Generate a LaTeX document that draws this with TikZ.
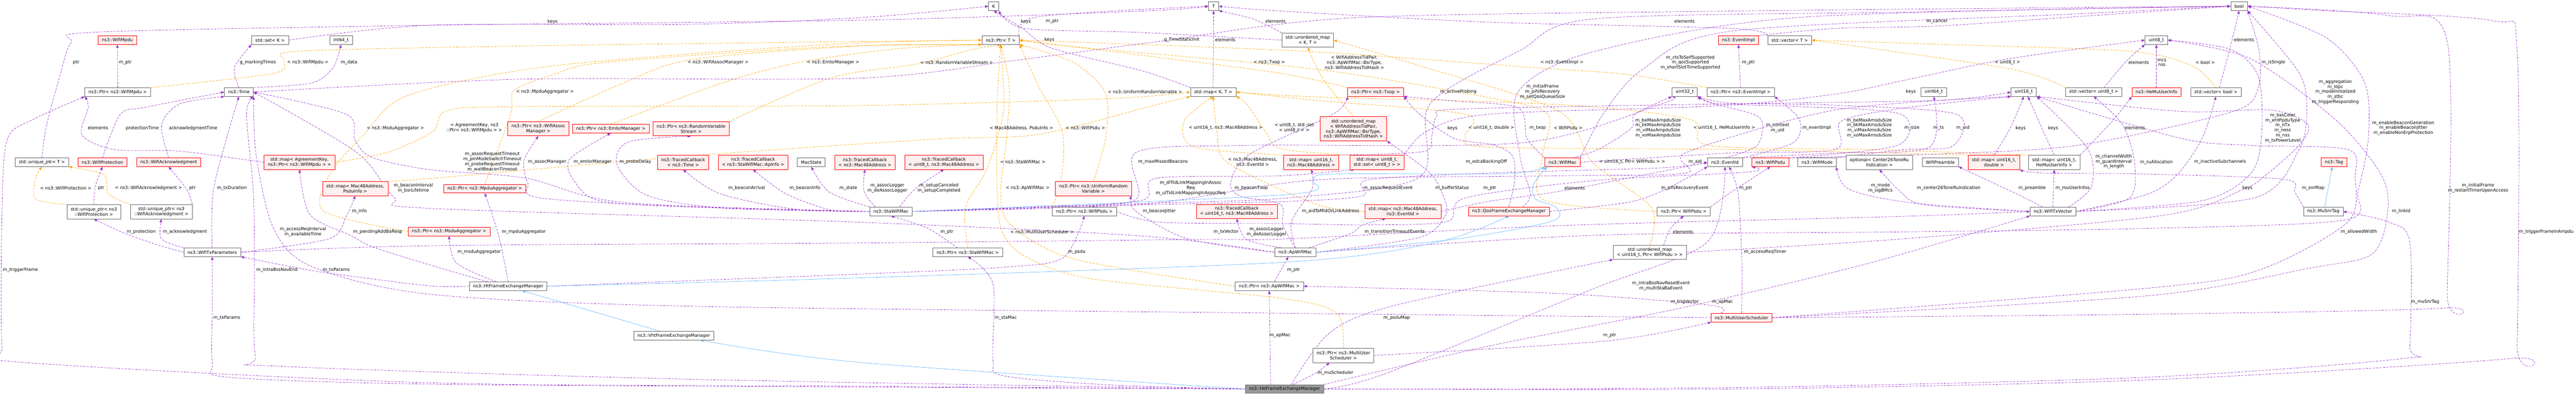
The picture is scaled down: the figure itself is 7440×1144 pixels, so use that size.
\documentclass[tikz,border=0pt]{standalone}
\usepackage{fontspec}
\setmainfont{DejaVu Sans}
\usetikzlibrary{arrows.meta,calc}
\definecolor{cpur}{HTML}{9A32CD}
\definecolor{corg}{HTML}{FFA500}
\definecolor{cblu}{HTML}{63B8FF}
\definecolor{cgray}{HTML}{666666}
\definecolor{cred}{HTML}{FF0000}
\definecolor{cpink}{HTML}{FFF0F0}
\definecolor{cfill}{HTML}{999999}
\pgfdeclarelayer{bg}
\pgfsetlayers{bg,main}
\begin{document}
\begin{tikzpicture}[x=0.75pt,y=-0.75pt,
 every node/.style={font=\fontsize{9.5}{11}\selectfont},
 nd/.style={draw=cgray,fill=white,line width=0.75pt,inner xsep=8pt,inner ysep=1pt,minimum height=18.75pt,align=center},
 ng/.style={nd},
 nr/.style={nd,draw=cred,fill=cpink},
 n2/.style={nd,minimum height=30.75pt},
 nr2/.style={nr,minimum height=30.75pt},
 nr4/.style={nr,minimum height=52.5pt},
 nh/.style={nd,fill=cfill},
 lb/.style={inner sep=1.5pt,align=center,text=black},
 ed/.style={line width=0.75pt,dash pattern=on 5pt off 2.5pt},
 pu/.style={ed,draw=cpur,-{Triangle[length=7pt,width=5.5pt]}},
 og/.style={ed,draw=corg,-{Triangle[length=7pt,width=5.5pt]}},
 bu/.style={line width=0.75pt,draw=cblu,-{Triangle[length=7pt,width=5.5pt]}},
]
\useasboundingbox (0,0) rectangle (7440,1144);
% ---------------- nodes
\node[nr] (wmpdu) at (339,116) {ns3::WifiMpdu};
\node[ng] (setk) at (780,116) {std::set< K >};
\node[ng] (i64) at (985,116) {int64\_t};
\node[ng] (K) at (2870,18) {K};
\node[ng] (T) at (3505,18) {T};
\node[ng] (ptrT) at (2890,116) {ns3::Ptr< T >};
\node[n2] (umapKT) at (3777,116) {std::unordered\_map\\< K, T >};
\node[nr] (evimpl) at (5021,116) {ns3::EventImpl};
\node[ng] (vecT) at (5169,116) {std::vector< T >};
\node[ng] (u8) at (6228,116) {uint8\_t};
\node[ng] (boolN) at (6467,18) {bool};
\node[ng] (ptrMpdu) at (340,266) {ns3::Ptr< ns3::WifiMpdu >};
\node[ng] (time) at (690,266) {ns3::Time};
\node[ng] (mapKT) at (3504,266) {std::map< K, T >};
\node[nr] (ptrTxop) at (3973,266) {ns3::Ptr< ns3::Txop >};
\node[ng] (u32) at (4866,266) {uint32\_t};
\node[ng] (ptrEvImpl) at (5027,266) {ns3::Ptr< ns3::EventImpl >};
\node[ng] (u64) at (5585,266) {uint64\_t};
\node[ng] (u16) at (5845,266) {uint16\_t};
\node[ng] (vecU8) at (6047,266) {std::vector< uint8\_t >};
\node[nr] (hemui) at (6228,266) {ns3::HeMuUserInfo};
\node[ng] (vecBool) at (6400,266) {std::vector< bool >};
\node[nr2] (ptrAssoc) at (1555,372) {ns3::Ptr< ns3::WifiAssoc\\Manager >};
\node[nr] (ptrEmlsr) at (1764,372) {ns3::Ptr< ns3::EmlsrManager >};
\node[nr2] (ptrRvs) at (1996,372) {ns3::Ptr< ns3::RandomVariable\\Stream >};
\node[nr4] (umapBsr) at (3909,372) {std::unordered\_map\\< WifiAddressTidPair,\\ns3::ApWifiMac::BsrType,\\ns3::WifiAddressTidHash >};
\node[ng] (uptrT) at (121,469) {std::unique\_ptr< T >};
\node[nr] (wprot) at (296,469) {ns3::WifiProtection};
\node[nr] (wack) at (487,469) {ns3::WifiAcknowledgment};
\node[nr2] (mapAgr) at (865,469) {std::map< AgreementKey,\\ns3::Ptr< ns3::WifiMpdu > >};
\node[nr2] (tcTime) at (1973,469) {ns3::TracedCallback\\< ns3::Time >};
\node[nr2] (tcApInfo) at (2175,469) {ns3::TracedCallback\\< ns3::StaWifiMac::ApInfo >};
\node[ng] (macState) at (2343,469) {MacState};
\node[nr2] (tcMac) at (2498,469) {ns3::TracedCallback\\< ns3::Mac48Address >};
\node[nr2] (tcU8Mac) at (2726,469) {ns3::TracedCallback\\< uint8\_t, ns3::Mac48Address >};
\node[nr2] (mapU16Mac) at (3787,469) {std::map< uint16\_t,\\ns3::Mac48Address >};
\node[nr2] (mapU8Set) at (3977,469) {std::map< uint8\_t,\\std::set< uint8\_t > >};
\node[nr] (wifiMac) at (4513,469) {ns3::WifiMac};
\node[ng] (eventId) at (4982,469) {ns3::EventId};
\node[nr] (wpsdu) at (5113,469) {ns3::WifiPsdu};
\node[ng] (wmode) at (5248,469) {ns3::WifiMode};
\node[n2] (optRu) at (5428,469) {optional< Center26ToneRu\\Indication >};
\node[ng] (wpre) at (5604,469) {WifiPreamble};
\node[nr2] (mapU16D) at (5759,469) {std::map< uint16\_t,\\double >};
\node[n2] (mapU16Hemu) at (5933,469) {std::map< uint16\_t,\\HeMuUserInfo >};
\node[nr] (tag) at (6741,469) {ns3::Tag};
\node[nr2] (mapPsdu) at (1026,545) {std::map< Mac48Address,\\PsduInfo >};
\node[nr] (ptrMpduAgg) at (1400,545) {ns3::Ptr< ns3::MpduAggregator >};
\node[nr2] (ptrUrv) at (3158,545) {ns3::Ptr< ns3::UniformRandom\\Variable >};
\node[n2] (uptrProt) at (271,612) {std::unique\_ptr< ns3\\::WifiProtection >};
\node[n2] (uptrAck) at (466,612) {std::unique\_ptr< ns3\\::WifiAcknowledgment >};
\node[ng] (staMac) at (2573,611) {ns3::StaWifiMac};
\node[ng] (ptrPsdu) at (3132,611) {ns3::Ptr< ns3::WifiPsdu >};
\node[nr2] (tcU16Mac) at (3572,611) {ns3::TracedCallback\\< uint16\_t, ns3::Mac48Address >};
\node[nr2] (mapMacEv) at (4052,611) {std::map< ns3::Mac48Address,\\ns3::EventId >};
\node[nr] (qosFem) at (4358,611) {ns3::QosFrameExchangeManager};
\node[ng] (ptrPsdu2) at (4863,611) {ns3::Ptr< WifiPsdu >};
\node[ng] (txVec) at (5929,611) {ns3::WifiTxVector};
\node[ng] (muSnr) at (6710,611) {ns3::MuSnrTag};
\node[nr] (ptrMsduAgg) at (1297,669) {ns3::Ptr< ns3::MsduAggregator >};
\node[ng] (txParams) at (613,729) {ns3::WifiTxParameters};
\node[ng] (ptrSta) at (2795,729) {ns3::Ptr< ns3::StaWifiMac >};
\node[ng] (apMac) at (3741,729) {ns3::ApWifiMac};
\node[n2] (umapPsdu) at (4765,729) {std::unordered\_map\\< uint16\_t, Ptr< WifiPsdu > >};
\node[ng] (htFem) at (1468,827) {ns3::HtFrameExchangeManager};
\node[ng] (ptrAp) at (3666,827) {ns3::Ptr< ns3::ApWifiMac >};
\node[nr] (mus) at (5030,918) {ns3::MultiUserScheduler};
\node[ng] (vhtFem) at (1946,970) {ns3::VhtFrameExchangeManager};
\node[n2] (ptrMus) at (3880,1027) {ns3::Ptr< ns3::MultiUser\\Scheduler >};
\node[nh] (heFem) at (3710,1124) {ns3::HeFrameExchangeManager};
% offset coordinates on node borders
\coordinate (hN60) at ($(htFem.north)+(-60,0)$);
\coordinate (hN35) at ($(htFem.north)+(-35,0)$);
\coordinate (m8S) at ($(mapU8Set.south)+(-65,0)$);
\coordinate (stN45) at ($(staMac.north)+(-45,0)$);
\coordinate (stN25) at ($(staMac.north)+(25,0)$);
\coordinate (psN30) at ($(ptrSta.north)+(-30,0)$);
\coordinate (heN40m) at ($(heFem.north)+(-40,0)$);
\coordinate (paN15) at ($(ptrAp.north)+(15,0)$);
\coordinate (apS20) at ($(apMac.south)+(-20,0)$);
\coordinate (apN40m) at ($(apMac.north)+(-40,0)$);
\coordinate (apN40) at ($(apMac.north)+(40,0)$);
\coordinate (meS50) at ($(mapMacEv.south)+(-50,0)$);
\coordinate (qfN40) at ($(qosFem.north)+(40,0)$);
\coordinate (wmN30) at ($(wifiMac.north)+(30,0)$);
\coordinate (upN40) at ($(umapPsdu.north)+(40,0)$);
\coordinate (heN20) at ($(heFem.north)+(20,0)$);
\coordinate (heN25) at ($(heFem.north)+(25,0)$);
\coordinate (pmS40) at ($(ptrMus.south)+(-40,0)$);
\coordinate (muN60) at ($(mus.north)+(-60,0)$);
\coordinate (evS12) at ($(eventId.south)+(12,0)$);
\coordinate (tvN30) at ($(txVec.north)+(-30,0)$);
\coordinate (tvN45) at ($(txVec.north)+(45,0)$);
\coordinate (u16S12) at ($(u16.south)+(12,0)$);
\coordinate (vuN30) at ($(vecU8.north)+(30,0)$);
\coordinate (vbN10) at ($(vecBool.north)+(10,0)$);
\coordinate (vhS77) at ($(vhtFem.south)+(77,0)$);
\coordinate (vhN40) at ($(vhtFem.north)+(-40,0)$);
\coordinate (htS40) at ($(htFem.south)+(40,0)$);
\coordinate (wmS45) at ($(wifiMac.south)+(-45,0)$);
\coordinate (msN4) at ($(muSnr.north)+(4,0)$);
\coordinate (tgS5) at ($(tag.south)+(-5,0)$);
% ---------------- labels
\node[lb] at (889,181) {< ns3::WifiMpdu >};
\node[lb] at (1142,370) {< ns3::MsduAggregator >};
\node[lb] at (1574,265) {< ns3::MpduAggregator >};
\node[lb] at (2074,181) {< ns3::WifiAssocManager >};
\node[lb] at (2406,181) {< ns3::EmlsrManager >};
\node[lb] at (2763,181) {< ns3::RandomVariableStream >};
\node[lb] at (2954,468) {< ns3::StaWifiMac >};
\node[lb] at (2968,544) {< ns3::ApWifiMac >};
\node[lb] at (3010,670) {< ns3::MultiUserScheduler >};
\node[lb] at (3135,370) {< ns3::WifiPsdu >};
\node[lb] at (3307,265) {< ns3::UniformRandomVariable >};
\node[lb] at (3666,181) {< ns3::Txop >};
\node[lb] at (4511,181) {< ns3::EventImpl >};
\node[lb] at (4529,370) {< WifiPsdu >};
\node[lb] at (1370,370) {< AgreementKey, ns3\\::Ptr< ns3::WifiMpdu > >};
\node[lb] at (2950,370) {< Mac48Address, PsduInfo >};
\node[lb] at (3540,370) {< uint16\_t, ns3::Mac48Address >};
\node[lb] at (3738,370) {< uint8\_t, std::set\\< uint8\_t > >};
\node[lb] at (3618,468) {< ns3::Mac48Address,\\ns3::EventId >};
\node[lb] at (4307,370) {< uint16\_t, double >};
\node[lb] at (4980,370) {< uint16\_t, HeMuUserInfo >};
\node[lb] at (3912,181) {< WifiAddressTidPair,\\ns3::ApWifiMac::BsrType,\\ns3::WifiAddressTidHash >};
\node[lb] at (4714,468) {< uint16\_t, Ptr< WifiPsdu > >};
\node[lb] at (5798,181) {< uint8\_t >};
\node[lb] at (6369,181) {< bool >};
\node[lb] at (190,544) {< ns3::WifiProtection >};
\node[lb] at (429,544) {< ns3::WifiAcknowledgment >};
\node[lb] at (362,181) {m\_ptr};
\node[lb] at (220,181) {ptr};
\node[lb] at (745,181) {g\_markingTimes};
\node[lb] at (1008,181) {m\_data};
\node[lb] at (3413,115) {g\_TimeStaticInit};
\node[lb] at (1596,62) {keys};
\node[lb] at (283,370) {elements};
\node[lb] at (411,370) {protectionTime};
\node[lb] at (558,370) {acknowledgmentTime};
\node[lb] at (292,544) {ptr};
\node[lb] at (556,544) {ptr};
\node[lb] at (670,544) {m\_txDuration};
\node[lb] at (408,670) {m\_protection};
\node[lb] at (534,670) {m\_acknowledgment};
\node[lb] at (1038,610) {m\_info};
\node[lb] at (875,670) {m\_accessReqInterval\\m\_availableTime};
\node[lb] at (1091,670) {m\_pendingAddBaResp};
\node[lb] at (1194,544) {m\_beaconInterval\\m\_bsrLifetime};
\node[lb] at (1422,468) {m\_assocRequestTimeout\\m\_pmModeSwitchTimeout\\m\_probeRequestTimeout\\m\_waitBeaconTimeout};
\node[lb] at (59,780) {m\_triggerFrame};
\node[lb] at (800,780) {m\_intraBssNavEnd};
\node[lb] at (971,780) {m\_txParams};
\node[lb] at (655,918) {m\_txParams};
\node[lb] at (1384,728) {m\_msduAggregator};
\node[lb] at (1513,670) {m\_mpduAggregator};
\node[lb] at (1580,468) {m\_assocManager};
\node[lb] at (1712,468) {m\_emlsrManager};
\node[lb] at (1835,468) {m\_probeDelay};
\node[lb] at (2157,544) {m\_beaconArrival};
\node[lb] at (2325,544) {m\_beaconInfo};
\node[lb] at (2450,544) {m\_state};
\node[lb] at (2563,544) {m\_assocLogger\\m\_deAssocLogger};
\node[lb] at (2712,544) {m\_setupCanceled\\m\_setupCompleted};
\node[lb] at (3039,62) {m\_ptr};
\node[lb] at (3031,115) {keys};
\node[lb] at (3539,115) {elements};
\node[lb] at (3684,62) {elements};
\node[lb] at (2963,62) {keys};
\node[lb] at (3359,468) {m\_maxMissedBeacons};
\node[lb] at (3348,610) {m\_beaconJitter};
\node[lb] at (3439,544) {m\_dlTidLinkMappingInAssoc\\Req\\m\_ulTidLinkMappingInAssocReq};
\node[lb] at (3614,544) {m\_beaconTxop};
\node[lb] at (3658,670) {m\_assocLogger\\m\_deAssocLogger};
\node[lb] at (3541,670) {m\_txVector};
\node[lb] at (2735,670) {m\_ptr};
\node[lb] at (2905,918) {m\_staMac};
\node[lb] at (3697,970) {m\_apMac};
\node[lb] at (3736,780) {m\_ptr};
\node[lb] at (3110,728) {m\_psdu};
\node[lb] at (3843,610) {m\_aidToMldOrLinkAddress};
\node[lb] at (4028,670) {m\_transitionTimeoutEvents};
\node[lb] at (4194,544) {m\_bufferStatus};
\node[lb] at (4009,544) {m\_assocRequestEvent};
\node[lb] at (4212,265) {m\_activeProbing};
\node[lb] at (4293,468) {m\_edcaBackingOff};
\node[lb] at (4441,370) {m\_txop};
\node[lb] at (4455,265) {m\_initialFrame\\m\_pifsRecovery\\m\_setQosQueueSize};
\node[lb] at (4882,181) {m\_ctsToSelfSupported\\m\_qosSupported\\m\_shortSlotTimeSupported};
\node[lb] at (4789,370) {m\_beMaxAmpduSize\\m\_bkMaxAmpduSize\\m\_viMaxAmpduSize\\m\_voMaxAmpduSize};
\node[lb] at (5399,370) {m\_beMaxAmsduSize\\m\_bkMaxAmsduSize\\m\_viMaxAmsduSize\\m\_voMaxAmsduSize};
\node[lb] at (4866,544) {m\_pifsRecoveryEvent};
\node[lb] at (4896,468) {m\_aid};
\node[lb] at (4861,670) {elements};
\node[lb] at (4034,918) {m\_psduMap};
\node[lb] at (4797,826) {m\_intraBssNavResetEvent\\m\_multiStaBaEvent};
\node[lb] at (4866,873) {m\_trigVector};
\node[lb] at (4649,970) {m\_ptr};
\node[lb] at (3857,1077) {m\_muScheduler};
\node[lb] at (4975,873) {m\_apMac};
\node[lb] at (5098,728) {m\_accessReqTimer};
\node[lb] at (5247,370) {m\_eventImpl};
\node[lb] at (5599,370) {m\_ts};
\node[lb] at (5134,370) {m\_context\\m\_uid};
\node[lb] at (5050,181) {m\_ptr};
\node[lb] at (5594,62) {m\_cancel};
\node[lb] at (4303,544) {m\_ptr};
\node[lb] at (5042,544) {m\_ptr};
\node[lb] at (5522,370) {m\_size};
\node[lb] at (5669,370) {m\_uid};
\node[lb] at (5431,544) {m\_mode\\m\_sigBMcs};
\node[lb] at (5628,544) {m\_center26ToneRuIndication};
\node[lb] at (5869,544) {m\_preamble};
\node[lb] at (5986,544) {m\_muUserInfos};
\node[lb] at (6105,467) {m\_channelWidth\\m\_guardInterval\\m\_length};
\node[lb] at (6228,469) {m\_ruAllocation};
\node[lb] at (6412,468) {m\_inactiveSubchannels};
\node[lb] at (6593,370) {m\_bssColor\\m\_ehtPpduType\\m\_nTx\\m\_ness\\m\_nss\\m\_txPowerLevel};
\node[lb] at (6745,266) {m\_aggregation\\m\_ldpc\\m\_modeInitialized\\m\_stbc\\m\_triggerResponding};
\node[lb] at (6941,370) {m\_enableBeaconGeneration\\m\_enableBeaconJitter\\m\_enableNonErpProtection};
\node[lb] at (7157,543) {m\_initialFrame\\m\_restartTimerUponAccess};
\node[lb] at (7354,670) {m\_triggerFrameInAmpdu};
\node[lb] at (6935,610) {m\_linkId};
\node[lb] at (6813,670) {m\_allowedWidth};
\node[lb] at (7004,873) {m\_muSnrTag};
\node[lb] at (6681,544) {m\_snrMap};
\node[lb] at (5836,370) {keys};
\node[lb] at (5930,370) {keys};
\node[lb] at (6166,370) {elements};
\node[lb] at (6244,181) {mcs\\nss};
\node[lb] at (6177,181) {elements};
\node[lb] at (6481,115) {elements};
\node[lb] at (6566,181) {m\_isSingle};
\node[lb] at (4865,62) {elements};
\node[lb] at (4548,544) {elements};
\node[lb] at (4195,370) {keys};
\node[lb] at (5519,265) {keys};
\node[lb] at (6491,544) {keys};
% ---------------- connectors
\begin{pgfonlayer}{bg}
\fill[white] (0,0) rectangle (7440,1144);
% orange: template instances
\draw[og] plot[smooth] coordinates {(ptrMpdu.north east) (790,212) (822,175) (860,148) (1500,133) (2400,121) (ptrT.west)};
\draw[og] plot[smooth] coordinates {(ptrMsduAgg.west) (935,610) (955,500) (1050,390) (1180,275) (1600,190) (2400,128) (ptrT.west)};
\draw[og] plot[smooth] coordinates {(ptrMpduAgg.north) (1475,330) (1485,262) (1600,215) (1750,180) (2400,135) (ptrT.south west)};
\draw[og] plot[smooth] coordinates {(ptrAssoc.north) (1800,240) (2000,172) (2500,132) (ptrT.south west)};
\draw[og] plot[smooth] coordinates {(ptrEmlsr.north) (2100,235) (2320,178) (2600,140) (ptrT.south west)};
\draw[og] plot[smooth] coordinates {(ptrRvs.north east) (2400,225) (2648,185) (2800,145) (ptrT.south)};
\draw[og] plot[smooth] coordinates {(ptrSta.north) (2788,600) (2845,500) (2880,400) (2900,300) (ptrT.south)};
\draw[og] plot[smooth] coordinates {(ptrAp.west) (3100,748) (2920,650) (2890,560) (2905,420) (2915,250) (ptrT.south)};
\draw[og] plot[smooth] coordinates {(ptrMus.north) (3860,905) (3700,862) (3150,805) (2960,740) (2895,670) (2880,560) (2880,300) (ptrT.south)};
\draw[og] plot[smooth] coordinates {(ptrPsdu.north west) (3065,520) (3068,380) (3000,250) (ptrT.south east)};
\draw[og] plot[smooth] coordinates {(ptrUrv.north) (3193,400) (3193,270) (3100,180) (ptrT.south east)};
\draw[og] plot[smooth] coordinates {(ptrTxop.north west) (3700,212) (3300,160) (ptrT.east)};
\draw[og] plot[smooth] coordinates {(ptrEvImpl.north west) (4700,215) (4440,196) (3800,150) (3200,125) (ptrT.east)};
\draw[og] plot[smooth] coordinates {(ptrPsdu2.west) (4460,578) (4455,450) (4470,330) (4300,282) (3800,200) (3100,135) (ptrT.east)};
\draw[og] plot[smooth] coordinates {(mapAgr.east) (1120,440) (1250,380) (1290,320) (1500,308) (2480,305) (3200,285) (mapKT.west)};
\draw[og] plot[smooth] coordinates {(mapPsdu.north east) (1250,515) (2000,450) (2700,402) (3000,388) (3350,300) (mapKT.south west)};
\draw[og] plot[smooth] coordinates {(mapU16Mac.north west) (3450,425) (3420,350) (mapKT.south)};
\draw[og] plot[smooth] coordinates {(mapU8Set.north west) (3700,430) (3655,380) (3600,300) (mapKT.south east)};
\draw[og] plot[smooth] coordinates {(mapMacEv.west) (3800,590) (3546,470) (3515,380) (mapKT.south)};
\draw[og] plot[smooth] coordinates {(mapU16D.north west) (5000,432) (4300,425) (4232,395) (4232,330) (3800,290) (mapKT.east)};
\draw[og] plot[smooth] coordinates {(mapU16Hemu.north west) (5400,432) (4935,420) (4880,345) (4500,302) (3800,280) (mapKT.east)};
\draw[og] plot[smooth] coordinates {(umapBsr.north) (3822,230) (umapKT.south)};
\draw[og] plot[smooth] coordinates {(umapPsdu.north) (4770,600) (4600,470) (4500,320) (4100,190) (umapKT.east)};
\draw[og] plot[smooth] coordinates {(vecU8.north west) (5800,198) (vecT.east)};
\draw[og] plot[smooth] coordinates {(vecBool.north) (6330,190) (6150,148) (5600,128) (vecT.east)};
\draw[og] plot[smooth] coordinates {(uptrProt.north west) (103,575) (103,515) (uptrT.south)};
\draw[og] plot[smooth] coordinates {(uptrAck.north west) (313,560) (300,505) (uptrT.south east)};
% purple: usage
\draw[pu] (ptrMpdu.north) -- (wmpdu.south);
\draw[pu] plot[smooth] coordinates {(uptrT.north) (134,365) (170,230) (205,124) (275,93) (1240,73) (2500,58) (3300,32) (T.west)};
\draw[pu] plot[smooth] coordinates {(time.north) (677,195) (setk.south west)};
\draw[pu] plot[smooth] coordinates {(time.north east) (900,240) (962,195) (i64.south)};
\draw[pu] plot[smooth] coordinates {(time.east) (1500,229) (2480,226) (2950,172) (3345,120) (3900,52) (5000,32) (boolN.west)};
\draw[pu] plot[smooth] coordinates {(setk.east) (1240,73) (2000,70) (2500,50) (K.west)};
\draw[pu] plot[smooth] coordinates {(mapAgr.west) (520,437) (330,432) (237,390) (255,310) (ptrMpdu.south west)};
\draw[pu] plot[smooth] coordinates {(wprot.north) (348,330) (420,310) (time.west)};
\draw[pu] plot[smooth] coordinates {(wack.north) (467,360) (520,300) (time.south west)};
\draw[pu] plot[smooth] coordinates {(uptrProt.north) (275,540) (wprot.south)};
\draw[pu] plot[smooth] coordinates {(uptrAck.north east) (540,548) (wack.south)};
\draw[pu] plot[smooth] coordinates {(txParams.north) (618,540) (time.south)};
\draw[pu] plot[smooth] coordinates {(txParams.west) (450,706) (355,672) (uptrProt.south)};
\draw[pu] plot[smooth] coordinates {(txParams.north west) (466,690) (uptrAck.south)};
\draw[pu] plot[smooth] coordinates {(txParams.east) (950,690) (1000,625) (mapPsdu.south)};
\draw[pu] plot[smooth] coordinates {(mus.west) (3700,905) (2000,885) (1240,850) (900,770) (790,660) (740,450) (time.south east)};
\draw[pu] plot[smooth] coordinates {(hN60) (1250,768) (1080,715) (1012,680) (895,620) (mapAgr.south)};
\draw[pu] plot[smooth] coordinates {(apMac.west) (3300,682) (2480,642) (1240,602) (1138,570) (1030,440) (time.east)};
\draw[pu] plot[smooth] coordinates {(staMac.west) (1800,585) (1520,515) (1240,490) (1075,455) (1025,405) (1000,330) (time.east)};
\draw[pu] plot[smooth] coordinates {(heFem.west) (2480,1116) (1240,1106) (40,1045) (6,1000) (6,600) (22,400) (100,343) (ptrMpdu.south west)};
\draw[pu] plot[smooth] coordinates {(heFem.west) (2000,1096) (800,1058) (738,1030) (735,790) (732,560) (712,330) (time.south east)};
\draw[pu] plot[smooth] coordinates {(htFem.west) (1240,826) (1000,796) (890,780) (txParams.south east)};
\draw[pu] plot[smooth] coordinates {(heFem.west) (2400,1118) (1240,1110) (660,1090) (614,1050) (613,900) (txParams.south)};
\draw[pu] plot[smooth] coordinates {(hN35) (1318,760) (ptrMsduAgg.south)};
\draw[pu] plot[smooth] coordinates {(htFem.north) (1440,680) (ptrMpduAgg.south)};
\draw[pu] plot[smooth] coordinates {(staMac.west) (2000,598) (1560,572) (1525,530) (1513,465) (ptrAssoc.south)};
\draw[pu] plot[smooth] coordinates {(staMac.west) (2050,600) (1740,582) (1660,525) (1645,460) (ptrEmlsr.south)};
\draw[pu] plot[smooth] coordinates {(staMac.west) (2100,602) (1870,565) (1782,475) (1815,410) (ptrRvs.south)};
\draw[pu] plot[smooth] coordinates {(staMac.west) (2300,605) (2080,560) (tcTime.south)};
\draw[pu] plot[smooth] coordinates {(staMac.west) (2400,607) (2270,560) (tcApInfo.south)};
\draw[pu] plot[smooth] coordinates {(staMac.north west) (2395,555) (macState.south)};
\draw[pu] plot[smooth] coordinates {(stN45) (2495,552) (tcMac.south)};
\draw[pu] plot[smooth] coordinates {(stN25) (2644,545) (tcU8Mac.south)};
\draw[pu] plot[smooth] coordinates {(ptrT.north east) (3000,48) (T.west)};
\draw[pu] plot[smooth] coordinates {(mapKT.north west) (3300,205) (3040,140) (2950,80) (K.south)};
\draw[pu] (mapKT.north) -- (T.south);
\draw[pu] plot[smooth] coordinates {(umapKT.north west) (3620,55) (T.south east)};
\draw[pu] plot[smooth] coordinates {(umapKT.west) (3300,94) (2960,82) (K.south east)};
\draw[pu] plot[smooth] coordinates {(staMac.east) (3000,596) (3278,578) (3282,440) (3600,420) (4400,412) (4800,300) (u32.south west)};
\draw[pu] plot[smooth] coordinates {(apMac.west) (3430,690) (3280,610) (ptrUrv.south east)};
\draw[pu] plot[smooth] coordinates {(staMac.east) (3000,600) (3300,578) (3340,515) (3700,508) (m8S)};
\draw[pu] plot[smooth] coordinates {(apMac.north) (3705,650) (3698,590) (3580,566) (3555,525) (3610,445) (3850,330) (ptrTxop.south west)};
\draw[pu] plot[smooth] coordinates {(apN40m) (3600,692) (tcU16Mac.south)};
\draw[pu] plot[smooth] coordinates {(txParams.east) (1240,710) (2480,702) (3450,692) (3720,690) (4500,652) (5500,625) (txVec.west)};
\draw[pu] plot[smooth] coordinates {(psN30) (2680,660) (staMac.south)};
\draw[pu] plot[smooth] coordinates {(heFem.west) (3200,1112) (2900,1086) (2868,1040) (2868,820) (ptrSta.south)};
\draw[pu] plot[smooth] coordinates {(heN40m) (3668,1000) (ptrAp.south)};
\draw[pu] plot[smooth] coordinates {(paN15) (3705,770) (apS20)};
\draw[pu] plot[smooth] coordinates {(htFem.east) (2480,792) (2900,772) (3070,745) (ptrPsdu.south)};
\draw[pu] plot[smooth] coordinates {(apMac.north) (3730,640) (3790,545) (mapU16Mac.south)};
\draw[pu] plot[smooth] coordinates {(apN40) (3900,675) (3935,650) (meS50)};
\draw[pu] plot[smooth] coordinates {(apMac.east) (4100,686) (4175,622) (4170,570) (4130,500) (umapBsr.south east)};
\draw[pu] plot[smooth] coordinates {(staMac.east) (3300,592) (3720,582) (3935,566) (3950,520) (4300,500) (4800,485) (eventId.west)};
\draw[pu] plot[smooth] coordinates {(staMac.east) (3300,588) (3720,572) (4100,512) (4130,300) (4390,146) (4600,55) (5500,35) (boolN.west)};
\draw[pu] plot[smooth] coordinates {(qosFem.north) (4375,520) (4368,450) (4310,418) (4200,400) (4100,330) (ptrTxop.south east)};
\draw[pu] plot[smooth] coordinates {(wifiMac.north west) (4410,400) (4385,312) (4200,292) (ptrTxop.south east)};
\draw[pu] plot[smooth] coordinates {(qfN40) (4420,560) (4390,450) (4385,265) (4600,150) (5200,50) (boolN.west)};
\draw[pu] plot[smooth] coordinates {(wifiMac.north east) (4630,330) (4745,200) (5000,90) (6000,40) (boolN.west)};
\draw[pu] plot[smooth] coordinates {(wmN30) (4620,430) (4712,370) (4722,330) (u32.south west)};
\draw[pu] plot[smooth] coordinates {(wifiMac.east) (5000,442) (5300,432) (5318,350) (5500,312) (u16.south west)};
\draw[pu] plot[smooth] coordinates {(qosFem.east) (4700,585) (4800,552) (eventId.south west)};
\draw[pu] plot[smooth] coordinates {(staMac.east) (3300,590) (3800,520) (4500,508) (4868,500) (4872,440) (5300,318) (u16.south west)};
\draw[pu] plot[smooth] coordinates {(upN40) (4825,660) (ptrPsdu2.south)};
\draw[pu] plot[smooth] coordinates {(heN20) (3840,962) (4030,882) (umapPsdu.south west)};
\draw[pu] plot[smooth] coordinates {(heFem.east) (4000,1080) (4600,835) (4930,700) (eventId.south)};
\draw[pu] plot[smooth] coordinates {(heFem.north east) (4300,1000) (4855,890) (5400,760) (txVec.south west)};
\draw[pu] plot[smooth] coordinates {(ptrMus.east) (4640,985) (mus.south west)};
\draw[pu] plot[smooth] coordinates {(heN25) (3800,1078) (pmS40)};
\draw[pu] plot[smooth] coordinates {(muN60) (4940,882) (4500,848) (ptrAp.east)};
\draw[pu] plot[smooth] coordinates {(mus.north) (5031,760) (5020,560) (evS12)};
\draw[pu] plot[smooth] coordinates {(eventId.north east) (5180,412) (5197,345) (ptrEvImpl.south east)};
\draw[pu] plot[smooth] coordinates {(eventId.north east) (5300,442) (5572,425) (u64.south)};
\draw[pu] plot[smooth] coordinates {(eventId.north) (5075,420) (5082,340) (4950,300) (u32.south east)};
\draw[pu] (ptrEvImpl.north) -- (evimpl.south);
\draw[pu] plot[smooth] coordinates {(evimpl.north east) (5300,82) (5600,75) (6000,48) (boolN.west)};
\draw[pu] plot[smooth] coordinates {(ptrPsdu.east) (3350,642) (3700,646) (3950,650) (4180,640) (4232,572) (4600,522) (5050,497) (wpsdu.south west)};
\draw[pu] plot[smooth] coordinates {(ptrPsdu2.north east) (5000,555) (wpsdu.south)};
\draw[pu] plot[smooth] coordinates {(wpsdu.north east) (5480,420) (5490,330) (5200,308) (4960,300) (u32.south east)};
\draw[pu] plot[smooth] coordinates {(wmode.north east) (5500,432) (5640,422) (5650,330) (5300,304) (5000,298) (u32.south east)};
\draw[pu] plot[smooth] coordinates {(txVec.west) (5520,586) (5340,547) (wmode.south east)};
\draw[pu] plot[smooth] coordinates {(txVec.west) (5560,592) (5490,555) (optRu.south)};
\draw[pu] plot[smooth] coordinates {(tvN30) (5828,562) (wpre.south east)};
\draw[pu] (txVec.north) -- (mapU16Hemu.south);
\draw[pu] plot[smooth] coordinates {(tvN45) (6040,540) (6030,430) (u16.south east)};
\draw[pu] plot[smooth] coordinates {(txVec.east) (6150,572) (6165,470) (6130,360) (vecU8.south)};
\draw[pu] plot[smooth] coordinates {(txVec.east) (6200,562) (6288,505) (6360,400) (vecBool.south)};
\draw[pu] plot[smooth] coordinates {(txVec.east) (6360,580) (6500,502) (6532,390) (6522,220) (6440,142) (u8.east)};
\draw[pu] plot[smooth] coordinates {(txVec.east) (6510,572) (6640,432) (6662,320) (6640,210) (boolN.south east)};
\draw[pu] plot[smooth] coordinates {(apMac.east) (4600,680) (5500,670) (6200,660) (6770,636) (6810,552) (6840,400) (6830,240) (6720,110) (boolN.east)};
\draw[pu] plot[smooth] coordinates {(mus.east) (6200,908) (7060,890) (7068,850) (7068,120) (6900,45) (boolN.east)};
\draw[pu] plot[smooth] coordinates {(heFem.east) (5000,1124) (6200,1098) (7250,1036) (7270,995) (7270,150) (7200,60) (6700,30) (boolN.east)};
\draw[pu] plot[smooth] coordinates {(mus.east) (6200,855) (6670,775) (6850,735) (6895,620) (6880,510) (6750,350) (6500,170) (u8.east)};
\draw[pu] plot[smooth] coordinates {(mus.east) (6200,833) (6520,782) (6780,642) (6802,510) (6780,432) (6500,420) (6300,400) (u16.south east)};
\draw[pu] plot[smooth] coordinates {(heFem.east) (5000,1120) (6200,1090) (6940,1036) (6960,1000) (6960,700) (6900,642) (muSnr.east)};
\draw[pu] plot[smooth] coordinates {(muSnr.north west) (6628,556) (6595,518) (6200,503) (5900,500) (mapU16D.south east)};
\draw[pu] plot[smooth] coordinates {(mapU16D.north) (5805,372) (u16.south)};
\draw[pu] plot[smooth] coordinates {(mapU16Hemu.north) (5898,372) (u16S12)};
\draw[pu] plot[smooth] coordinates {(mapU16Hemu.north east) (6105,345) (hemui.south west)};
\draw[pu] (hemui.north) -- (u8.south);
\draw[pu] plot[smooth] coordinates {(vuN30) (6140,178) (u8.south west)};
\draw[pu] plot[smooth] coordinates {(vbN10) (6443,130) (boolN.south)};
\draw[pu] plot[smooth] coordinates {(wpsdu.north east) (5600,445) (6000,420) (6440,325) (6520,262) (6525,150) (boolN.south east)};
\draw[pu] plot[smooth] coordinates {(vecT.north west) (5000,82) (4300,64) (3700,32) (T.east)};
\draw[pu] plot[smooth] coordinates {(mapMacEv.east) (4300,582) (4520,550) (eventId.west)};
\draw[pu] plot[smooth] coordinates {(mapU16Mac.north east) (4110,438) (4135,395) (4150,335) (4220,315) (5000,300) (5600,290) (u16.west)};
\draw[pu] plot[smooth] coordinates {(mapU8Set.north east) (4120,380) (4300,330) (4960,306) (5300,272) (5500,232) (5800,170) (u8.west)};
\draw[pu] plot[smooth] coordinates {(umapPsdu.east) (5500,690) (6250,622) (6477,548) (6545,505) (6640,420) (6665,360) (6560,318) (6300,322) (u16.south east)};
% blue: inheritance
\draw[bu] plot[smooth] coordinates {(heFem.west) (2480,1047) (vhS77)};
\draw[bu] (vhN40) -- (htS40);
\draw[bu] plot[smooth] coordinates {(htFem.east) (2480,803) (3720,757) (4150,700) (qosFem.south)};
\draw[bu] plot[smooth] coordinates {(staMac.east) (3720,562) (3790,520) (3850,503) (4350,502) (wifiMac.south west)};
\draw[bu] plot[smooth] coordinates {(apMac.east) (4195,692) (4480,640) (4495,600) (4435,575) (4428,535) (wmS45)};
\draw[bu] (msN4) -- (tgS5);
\end{pgfonlayer}
\end{tikzpicture}
\end{document}
